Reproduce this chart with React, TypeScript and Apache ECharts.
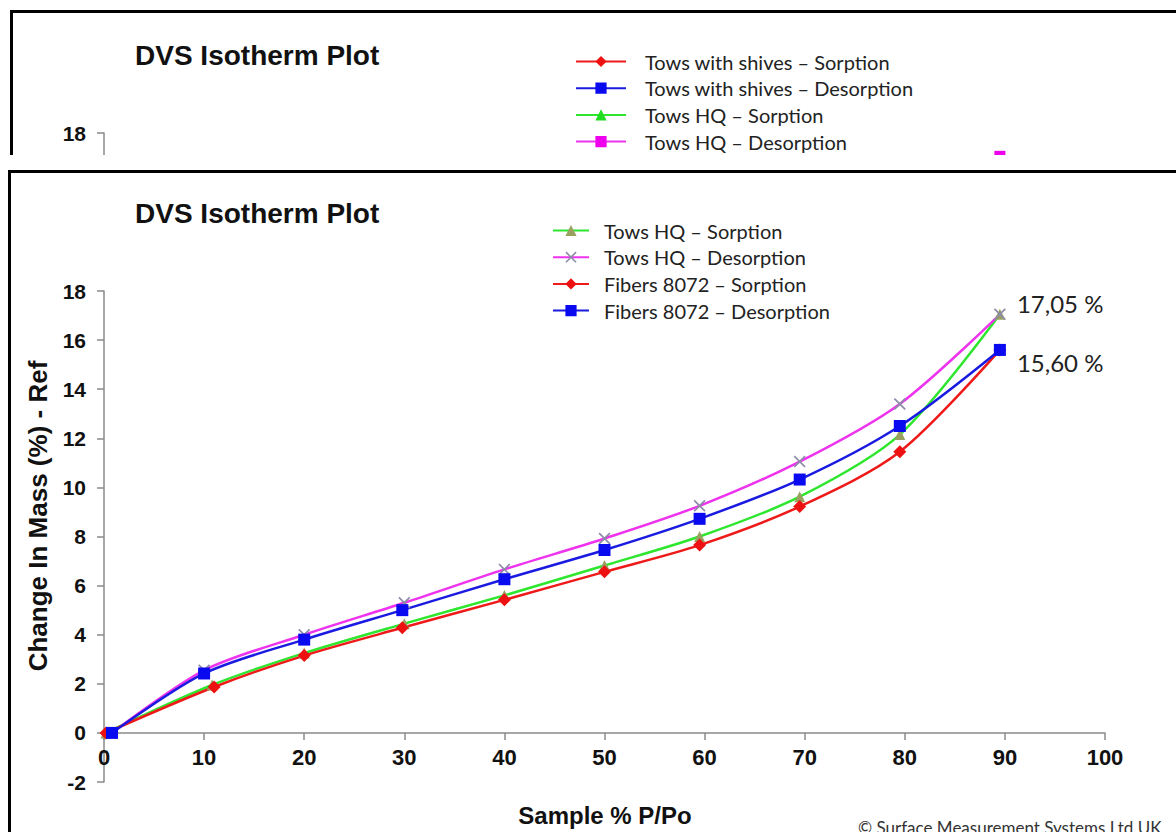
import React, { useEffect, useRef } from "react";
import * as echarts from "echarts";

// ---- data ----
const xTickMin = 0;
const xTickMax = 100;
const xTickStep = 10;
const yTickMin = -2;
const yTickMax = 18;
const yTickStep = 2;

const hqSorptionX = [0.2, 10.8, 20, 30, 40, 50, 59.5, 69.5, 79.5, 89.5];
const hqSorptionY = [0, 1.95, 3.25, 4.45, 5.6, 6.82, 8.0, 9.62, 12.15, 17.05];
const hqDesorptionX = [0.8, 10, 20, 30, 40, 50, 59.5, 69.5, 79.5, 89.5];
const hqDesorptionY = [0, 2.55, 4.0, 5.3, 6.66, 7.92, 9.25, 11.05, 13.4, 17.05];
const fibSorptionX = [0.2, 11, 20, 29.8, 40, 50, 59.5, 69.5, 79.5, 89.5];
const fibSorptionY = [0, 1.87, 3.15, 4.28, 5.42, 6.56, 7.65, 9.22, 11.45, 15.6];
const fibDesorptionX = [0.8, 10, 20, 29.8, 40, 50, 59.5, 69.5, 79.5, 89.5];
const fibDesorptionY = [0, 2.42, 3.8, 5.0, 6.26, 7.45, 8.72, 10.32, 12.5, 15.6];

// the upper (cropped) plot: only the Tows HQ end point is visible there
const shivesSorptionX: number[] = [];
const shivesSorptionY: number[] = [];
const shivesDesorptionX: number[] = [];
const shivesDesorptionY: number[] = [];

const titleText = "DVS Isotherm Plot";
const yTitle = "Change In Mass (%) - Ref";
const xTitle = "Sample % P/Po";
const copyright = "\u00a9 Surface Measurement Systems Ltd UK";

const X_MARK = "path://M0,1L1,0L5,4L9,0L10,1L6,5L10,9L9,10L5,6L1,10L0,9L4,5Z";

const fmtPct = (v: number) => v.toFixed(2).replace(".", ",") + " %";

function lineSeries(
  name: string,
  xs: number[],
  ys: number[],
  lineColor: string,
  symbol: string,
  symbolColor: string,
  symbolSize: number,
  endLabelOffset?: [number, number]
) {
  return {
    name,
    type: "line",
    smooth: 0.3,
    symbol,
    symbolSize,
    showAllSymbol: true,
    lineStyle: { color: lineColor, width: 2.5 },
    itemStyle: { color: symbolColor },
    emphasis: { disabled: true },
    data: xs.map((x, i) => {
      const item: any = { value: [x, ys[i]] };
      if (endLabelOffset && i === xs.length - 1) {
        item.label = {
          show: true,
          position: "right",
          distance: 11,
          offset: endLabelOffset,
          formatter: (p: any) => fmtPct(p.value[1]),
          fontFamily: "Lato",
          fontSize: 24,
          color: "#222",
        };
      }
      return item;
    }),
  };
}

const PLOT_H = 491;

// visibleOnly: the upper plot is cropped, so only the labels that show are drawn
function axes(gridTop: number, gridBottom: number, croppedTop: boolean) {
  const axisLineStyle = { color: "#8a8a8a", width: 1.5 };
  const labelStyle = {
    fontFamily: "Liberation Sans",
    fontWeight: "bold" as const,
    color: "#111",
  };
  // x axis crosses the y axis at 0
  const zeroOffset = -(PLOT_H * (0 - yTickMin)) / (yTickMax - yTickMin);
  return {
    grid: { left: 104, right: 71, top: gridTop, bottom: gridBottom },
    xAxis: {
      type: "value",
      min: xTickMin,
      max: xTickMax,
      interval: xTickStep,
      offset: zeroOffset,
      axisLine: { show: true, onZero: false, lineStyle: axisLineStyle },
      axisTick: { show: true, length: 7, lineStyle: axisLineStyle },
      axisLabel: { ...labelStyle, fontSize: 22, margin: 14, show: !croppedTop },
      splitLine: { show: false },
    },
    yAxis: {
      type: "value",
      min: yTickMin,
      max: yTickMax,
      interval: yTickStep,
      axisLine: { show: true, onZero: false, lineStyle: axisLineStyle },
      axisTick: { show: true, length: 7, lineStyle: axisLineStyle },
      axisLabel: {
        ...labelStyle,
        fontSize: 21,
        margin: 18,
        formatter: (v: number) => (croppedTop && v !== yTickMax ? "" : String(v)),
      },
      splitLine: { show: false },
    },
  };
}

function Chart({ option, style }: { option: any; style: React.CSSProperties }) {
  const ref = useRef<HTMLDivElement>(null);
  useEffect(() => {
    if (!ref.current) return;
    const chart = echarts.init(ref.current, null, { renderer: "svg" });
    chart.setOption(option);
    return () => chart.dispose();
  }, []);
  return <div ref={ref} style={style} />;
}

const titleStyle = {
  fontFamily: "Liberation Sans",
  fontWeight: "bold" as const,
  fontSize: 28,
  color: "#111",
};

const legendText = (padLeft: number) => ({
  fontFamily: "Lato",
  fontSize: 20,
  lineHeight: 21,
  color: "#222",
  padding: [0, 0, 0, padLeft],
});

const bottomOption = {
  animation: false,
  backgroundColor: "transparent",
  title: { text: titleText, left: 135, top: 199, padding: 0, textStyle: titleStyle },
  legend: {
    orient: "vertical",
    left: 552,
    top: 220,
    padding: 0,
    itemWidth: 36,
    itemHeight: 14,
    itemGap: 5.7,
    selectedMode: false,
    textStyle: legendText(10),
  },
  ...axes(291, 50, false),
  series: [
    lineSeries("Tows HQ \u2013 Sorption", hqSorptionX, hqSorptionY, "#2ee62e", "triangle", "#99a060", 11),
    lineSeries("Tows HQ \u2013 Desorption", hqDesorptionX, hqDesorptionY, "#ee33ee", X_MARK, "#8c8ca8", 12, [0, -11]),
    lineSeries("Fibers 8072 \u2013 Sorption", fibSorptionX, fibSorptionY, "#ee1a1a", "diamond", "#ee1111", 13),
    lineSeries("Fibers 8072 \u2013 Desorption", fibDesorptionX, fibDesorptionY, "#1a1ae0", "rect", "#0a0af0", 12, [0, 13]),
  ],
  graphic: [
    {
      type: "text",
      x: 38,
      y: 516,
      rotation: Math.PI / 2,
      style: {
        text: yTitle,
        align: "center",
        verticalAlign: "middle",
        fontFamily: "Liberation Sans",
        fontWeight: "bold",
        fontSize: 26,
        fill: "#111",
      },
    },
    {
      type: "text",
      x: 605,
      y: 815,
      style: {
        text: xTitle,
        align: "center",
        verticalAlign: "middle",
        fontFamily: "Liberation Sans",
        fontWeight: "bold",
        fontSize: 24,
        fill: "#111",
      },
    },
    {
      type: "text",
      x: 858,
      y: 819,
      style: {
        text: copyright,
        fontFamily: "Lato",
        fontSize: 17,
        fill: "#333",
      },
    },
  ],
};

const topOption = {
  animation: false,
  backgroundColor: "transparent",
  title: { text: titleText, left: 135, top: 41, padding: 0, textStyle: titleStyle },
  legend: {
    orient: "vertical",
    left: 575,
    top: 51,
    padding: 0,
    itemWidth: 50,
    itemHeight: 14,
    itemGap: 5.7,
    selectedMode: false,
    textStyle: legendText(14),
  },
  ...axes(133, 208, true),
  series: [
    lineSeries("Tows with shives \u2013 Sorption", shivesSorptionX, shivesSorptionY, "#ee1a1a", "diamond", "#ee1111", 13),
    lineSeries("Tows with shives \u2013 Desorption", shivesDesorptionX, shivesDesorptionY, "#1a1ae0", "rect", "#0a0af0", 12),
    lineSeries("Tows HQ \u2013 Sorption", hqSorptionX, hqSorptionY, "#2ee62e", "triangle", "#22dd22", 11),
    lineSeries("Tows HQ \u2013 Desorption", hqDesorptionX, hqDesorptionY, "#ee33ee", "rect", "#ee00ee", 11),
  ],
};

export default function App() {
  return (
    <div
      style={{
        position: "absolute",
        left: 0,
        top: 0,
        width: 1176,
        height: 832,
        overflow: "hidden",
        background: "#fff",
      }}
    >
      {/* lower plot */}
      <Chart option={bottomOption} style={{ position: "absolute", left: 0, top: 0, width: 1176, height: 832 }} />
      {/* upper plot, cropped */}
      <div style={{ position: "absolute", left: 0, top: 0, width: 1176, height: 155, overflow: "hidden" }}>
        <Chart option={topOption} style={{ position: "absolute", left: 0, top: 0, width: 1176, height: 832 }} />
      </div>
      {/* frames */}
      <div style={{ position: "absolute", left: 10, top: 10, width: 1166, height: 3, background: "#000" }} />
      <div style={{ position: "absolute", left: 10, top: 10, width: 3, height: 145, background: "#000" }} />
      <div style={{ position: "absolute", left: 8, top: 170, width: 1168, height: 3, background: "#000" }} />
      <div style={{ position: "absolute", left: 8, top: 170, width: 3, height: 662, background: "#000" }} />
    </div>
  );
}
